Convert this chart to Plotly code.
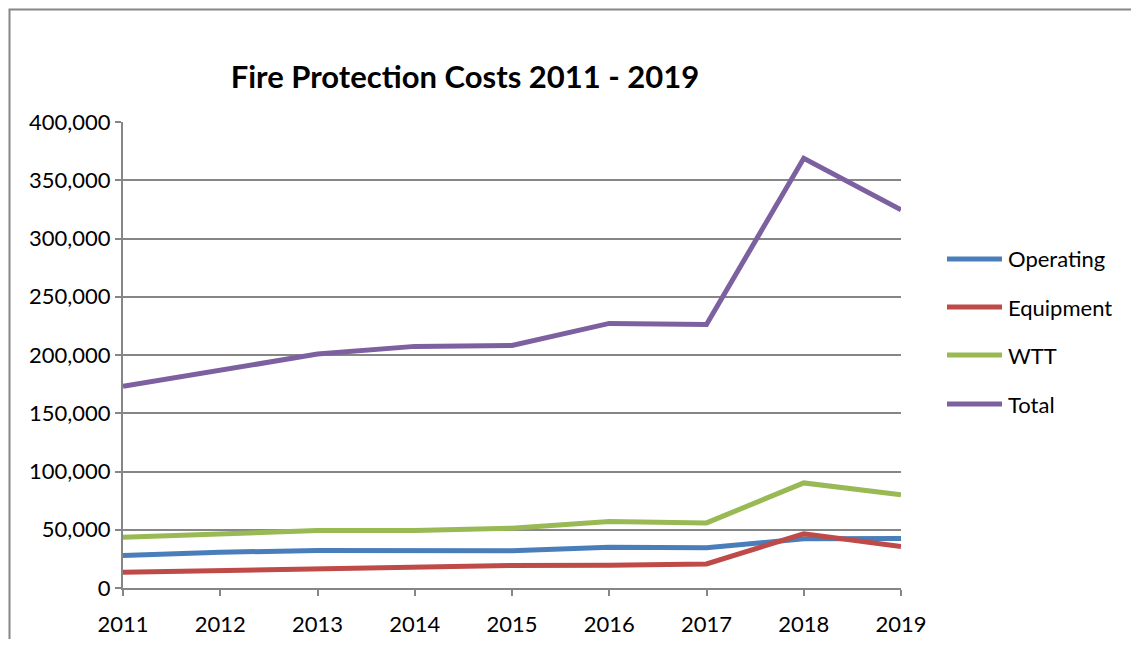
import plotly.graph_objects as go

years = [2011, 2012, 2013, 2014, 2015, 2016, 2017, 2018, 2019]
operating = [28000, 30700, 32200, 32000, 32000, 35000, 34500, 42200, 42400]
equipment = [13600, 15000, 16400, 17800, 19300, 19600, 20700, 46500, 35600]
wtt = [43600, 46500, 49300, 49300, 51300, 57000, 55900, 90200, 80000]
total = [173100, 186500, 200800, 207400, 208200, 227100, 226200, 368900, 324600]

series = [
    ("Operating", operating, "#4A7EBB"),
    ("Equipment", equipment, "#BE4B48"),
    ("WTT", wtt, "#98B954"),
    ("Total", total, "#7D60A0"),
]

OFF = 8  # page body margin
W, H = 1139 - 2 * OFF, 647 - 2 * OFF
L, T = 123 - OFF, 122 - OFF
pw, ph = 778, 466
R = W - L - pw
B = H - T - ph
FONT = "Lato, Carlito, sans-serif"

fig = go.Figure()
for name, vals, col in series:
    fig.add_trace(go.Scatter(x=years, y=vals, mode="lines", name=name,
                             showlegend=False,
                             line=dict(color=col, width=5)))

def px_x(px):
    return (px - OFF - L) / pw
def px_y(py):
    return (T + ph - (py - OFF)) / ph

shapes = [dict(type="rect", xref="paper", yref="paper",
               x0=px_x(9.5), x1=px_x(1200),
               y0=px_y(700), y1=px_y(9.5),
               line=dict(color="#868686", width=2), layer="below")]
annotations = []
leg_y = [259, 307, 355, 404]
for (name, vals, col), yy in zip(series, leg_y):
    shapes.append(dict(type="line", xref="paper", yref="paper",
                       x0=px_x(947), x1=px_x(1002), y0=px_y(yy), y1=px_y(yy),
                       line=dict(color=col, width=5)))
    annotations.append(dict(text=name, xref="paper", yref="paper",
                            x=px_x(1006), y=px_y(yy), xanchor="left",
                            yanchor="middle", showarrow=False,
                            font=dict(size=22, family=FONT, color="black")))

fig.update_layout(
    width=W, height=H,
    margin=dict(l=L, r=R, t=T, b=B, pad=0, autoexpand=False),
    paper_bgcolor="white", plot_bgcolor="white",
    font=dict(family=FONT, size=22, color="black"),
    title=dict(text="<b>Fire Protection Costs 2011 - 2019</b>",
               x=(465 - OFF) / W, xanchor="center",
               y=1 - (77 - OFF) / H, yanchor="middle",
               font=dict(size=31, family=FONT)),
    xaxis=dict(range=[2011, 2019], tickmode="array", tickvals=years,
               ticktext=[str(y) for y in years], automargin=False,
               showgrid=False, showline=True, linecolor="#868686", linewidth=2,
               ticks="outside", ticklen=6, tickcolor="#868686", tickwidth=2,
               zeroline=False, tickfont=dict(size=22), ticklabelstandoff=10),
    yaxis=dict(range=[0, 400000], tickmode="array",
               tickvals=list(range(0, 400001, 50000)),
               tickformat=",d", automargin=False,
               showgrid=True, gridcolor="#868686", gridwidth=2,
               showline=True, linecolor="#868686", linewidth=2,
               ticks="outside", ticklen=6, tickcolor="#868686", tickwidth=2,
               zeroline=False, tickfont=dict(size=22)),
    showlegend=False,
    shapes=shapes,
    annotations=annotations,
)

fig.write_html("out.html")
